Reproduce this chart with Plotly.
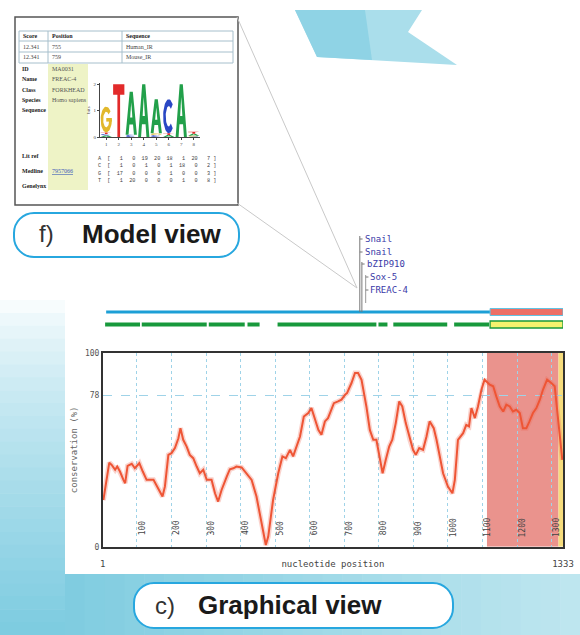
import numpy as np
import plotly.graph_objects as go

W, H = 580, 635


def px(x):
    return x / W


def py(y):
    return 1 - y / H


def mix(c1, c2, t):
    a = [int(c1[i:i + 2], 16) for i in (1, 3, 5)]
    b = [int(c2[i:i + 2], 16) for i in (1, 3, 5)]
    return 'rgb(%d,%d,%d)' % tuple(round(a[k] + (b[k] - a[k]) * t) for k in range(3))


# conservation profile (graphical view)
position = [3, 13, 20, 27, 37, 43, 51, 61, 66, 73, 85, 94, 107, 117, 128, 148, 162, 174, 181, 191,
            200, 210, 220, 226, 234, 244, 253, 263, 273, 282, 292, 302, 316, 326, 335, 345, 360, 369, 379, 388,
            403, 417, 432, 446, 461, 473, 480, 494, 509, 521, 531, 543, 552, 562, 572, 583, 596, 605, 615, 625,
            634, 644, 653, 663, 670, 682, 692, 702, 708, 721, 731, 740, 750, 757, 764, 774, 784, 793, 801, 811,
            820, 830, 839, 849, 859, 868, 878, 890, 899, 907, 917, 928, 938, 947, 959, 967, 976, 986, 1000, 1013,
            1020, 1029, 1044, 1053, 1061, 1068, 1078, 1087, 1097, 1106, 1121, 1131, 1140, 1150, 1160, 1169, 1179, 1188, 1198, 1208,
            1217, 1227, 1236, 1246, 1256, 1266, 1275, 1287, 1299, 1309, 1318, 1325, 1331]
conservation = [24.1, 34.5, 43.4, 42.2, 39.7, 41.4, 38.8, 34.5, 32.8, 41.7, 42.8, 40.5, 43.1, 38.8, 34.5, 34.5, 30.2, 25.9, 31.0, 47.4,
                48.3, 50.9, 56.0, 61.2, 55.2, 51.7, 47.4, 45.7, 41.4, 37.9, 39.7, 34.5, 34.5, 27.6, 23.3, 29.3, 36.2, 40.0, 40.5, 41.4,
                40.9, 37.9, 34.5, 25.9, 12.1, 0.9, 5.2, 24.1, 37.9, 46.6, 45.7, 50.0, 46.6, 51.7, 56.9, 67.2, 69.0, 71.6, 65.5, 60.3,
                57.8, 64.7, 66.4, 70.7, 74.1, 75.0, 75.9, 78.4, 79.3, 84.5, 89.7, 89.7, 86.2, 79.3, 72.4, 60.3, 55.2, 55.2, 48.3, 37.9,
                44.8, 51.7, 55.2, 63.8, 75.0, 72.4, 63.8, 55.2, 50.0, 47.4, 50.9, 50.0, 56.9, 64.7, 61.2, 55.2, 47.4, 37.9, 31.0, 27.6,
                34.5, 55.2, 58.6, 62.9, 62.1, 71.6, 66.4, 72.4, 81.0, 86.2, 83.6, 82.8, 77.6, 72.4, 69.8, 73.3, 72.4, 69.8, 70.7, 69.0,
                61.2, 61.2, 64.7, 69.0, 71.6, 75.9, 81.0, 86.2, 84.5, 82.8, 67.2, 55.2, 44.8]
seq_length = 1333
grid_ticks = list(range(100, 1400, 100))
y_ticks = [0, 78, 100]
utr_region = (1113, 1320)
end_region = (1320, 1333)

# gene tracks above the plot (nucleotide coordinates)
transcript = (11, 1125)
exons = [(8, 109), (114, 302), (308, 412), (420, 455), (507, 793), (799, 825), (842, 998), (1018, 1119)]
utr = (1122, 1333)
tf_names = ['Snail', 'Snail', 'bZIP910', 'Sox-5', 'FREAC-4']
tf_sites = [745, 745, 751, 762, 762]

# model view content
hit_score = ['12.341', '12.341']
hit_position = ['755', '759']
hit_sequence = ['Human_IR', 'Mouse_IR']
fields = ['ID', 'Name', 'Class', 'Species', 'Sequence', 'Lit ref', 'Medline', 'Genelynx']
field_values = ['MA0031', 'FREAC-4', 'FORKHEAD', 'Homo sapiens', '', '', '7957066', '']
bases = ['A', 'C', 'G', 'T']
count_A = [1, 0, 19, 20, 18, 1, 20, 7]
count_C = [1, 0, 1, 0, 1, 18, 0, 2]
count_G = [17, 0, 0, 0, 1, 0, 0, 3]
count_T = [1, 20, 0, 0, 0, 1, 0, 8]
base_colors = {'A': '#22a04a', 'C': '#2a47c4', 'G': '#e2b82c', 'T': '#e22a2a'}


def glyph(base):
    if base == 'T':
        return [[0, 1, 1, 0.62, 0.62, 0.38, 0.38, 0, 0]], [[1, 1, 0.8, 0.8, 0, 0, 0.8, 0.8, 1]]
    if base == 'A':
        return [[0, 0.36, 0.64, 1, 0.74, 0.66, 0.34, 0.26, 0]], [[0, 1, 1, 0, 0, 0.24, 0.24, 0, 0]]
    if base == 'C':
        t = np.radians(np.linspace(45, 315, 40))
    else:
        t = np.radians(np.linspace(40, 360, 40))
    xo = 0.5 + 0.5 * np.cos(t)
    yo = 0.5 + 0.5 * np.sin(t)
    xi = 0.5 + 0.27 * np.cos(t[::-1])
    yi = 0.5 + 0.3 * np.sin(t[::-1])
    xs = [list(np.r_[xo, xi, xo[:1]])]
    ys = [list(np.r_[yo, yi, yo[:1]])]
    if base == 'G':
        xs.append([0.5, 1, 1, 0.5, 0.5])
        ys.append([0.42, 0.42, 0.56, 0.56, 0.42])
    return xs, ys


fig = go.Figure()

# conservation curve with a soft halo
fig.add_trace(go.Scatter(x=position, y=conservation, mode='lines',
                         line=dict(color='rgba(240,110,90,0.3)', width=5), hoverinfo='skip'))
fig.add_trace(go.Scatter(x=position, y=conservation, mode='lines',
                         line=dict(color='#ee5535', width=2)))

# sequence logo computed from the count matrix
counts = np.array([count_A, count_C, count_G, count_T], dtype=float)
freq = counts / counts.sum(axis=0)
with np.errstate(divide='ignore', invalid='ignore'):
    ent = -np.nansum(np.where(freq > 0, freq * np.log2(freq), 0), axis=0)
heights = freq * (2 - ent)
for col in range(counts.shape[1]):
    base_y = 0.0
    for b in np.argsort(heights[:, col]):
        h = heights[b, col]
        if h < 0.01:
            continue
        gx, gy = glyph(bases[b])
        for xs, ys in zip(gx, gy):
            fig.add_trace(go.Scatter(x=[col + 1 - 0.45 + 0.9 * v for v in xs],
                                     y=[base_y + h * v for v in ys],
                                     mode='lines', fill='toself', line=dict(width=0),
                                     fillcolor=base_colors[bases[b]],
                                     xaxis='x2', yaxis='y2', hoverinfo='skip'))
        if bases[b] == 'A':
            fig.add_trace(go.Scatter(x=[col + 1 - 0.45 + 0.9 * v for v in [0.4, 0.5, 0.6, 0.4]],
                                     y=[base_y + h * v for v in [0.4, 0.76, 0.4, 0.4]],
                                     mode='lines', fill='toself', line=dict(width=0),
                                     fillcolor='white', xaxis='x2', yaxis='y2', hoverinfo='skip'))
        base_y += h

shapes = []
# blue background gradient
n = 26
for i in range(n):
    y0 = 300 + i * (335 / n)
    shapes.append(dict(type='rect', xref='paper', yref='paper', layer='below',
                       x0=px(0), x1=px(65), y0=py(y0 + 335 / n + 0.6), y1=py(y0),
                       line=dict(width=0), fillcolor=mix('#ffffff', '#7ccbe0', ((i + 0.5) / n) ** 0.7)))
for i in range(n):
    x0 = 65 + i * (515 / n)
    shapes.append(dict(type='rect', xref='paper', yref='paper', layer='below',
                       x0=px(x0), x1=px(x0 + 515 / n + 0.6), y0=py(635), y1=py(574),
                       line=dict(width=0), fillcolor=mix('#7fcce0', '#bfe6ef', (i + 0.5) / n)))
# teal ribbon at the top
shapes.append(dict(type='path', xref='paper', yref='paper', layer='below',
                   path='M %f,%f L %f,%f L %f,%f L %f,%f L %f,%f Z' % (
                       px(295), py(10), px(422), py(10), px(408), py(32), px(457), py(65), px(317), py(57)),
                   line=dict(width=0), fillcolor='#aadeeb'))
shapes.append(dict(type='path', xref='paper', yref='paper', layer='below',
                   path='M %f,%f L %f,%f L %f,%f L %f,%f Z' % (
                       px(295), py(10), px(365), py(10), px(372), py(60), px(317), py(57)),
                   line=dict(width=0), fillcolor='#8fd3e5'))

# connector lines from the model view to the sites
for yy in (17, 203):
    shapes.append(dict(type='line', xref='paper', yref='paper', x0=px(237), y0=py(yy), x1=px(357), y1=py(288),
                       line=dict(color='#c9c9c9', width=1)))

# model view box
shapes.append(dict(type='rect', xref='paper', yref='paper', layer='below', x0=px(15), x1=px(238), y0=py(205), y1=py(17),
                   line=dict(color='#555555', width=1.5), fillcolor='white'))
shapes.append(dict(type='rect', xref='paper', yref='paper', layer='below', x0=px(48), x1=px(88), y0=py(190), y1=py(64),
                   line=dict(width=0), fillcolor='#eef3c6'))
shapes.append(dict(type='rect', xref='paper', yref='paper', x0=px(19), x1=px(233), y0=py(63), y1=py(31),
                   line=dict(color='#a6bfcc', width=1)))
for yy in (41, 52):
    shapes.append(dict(type='line', xref='paper', yref='paper', x0=px(19), x1=px(233), y0=py(yy), y1=py(yy),
                       line=dict(color='#a6bfcc', width=1)))
for xx in (48, 122):
    shapes.append(dict(type='line', xref='paper', yref='paper', x0=px(xx), x1=px(xx), y0=py(31), y1=py(63),
                       line=dict(color='#a6bfcc', width=1)))


def pill(x0, y0, x1, y1, r):
    k = 0.5523 * r
    p = [('M', x0 + r, y0), ('L', x1 - r, y0), ('C', x1 - r + k, y0, x1, y0 + r - k, x1, y0 + r),
         ('L', x1, y1 - r), ('C', x1, y1 - r + k, x1 - r + k, y1, x1 - r, y1), ('L', x0 + r, y1),
         ('C', x0 + r - k, y1, x0, y1 - r + k, x0, y1 - r), ('L', x0, y0 + r),
         ('C', x0, y0 + r - k, x0 + r - k, y0, x0 + r, y0)]
    out = []
    for seg in p:
        pts = seg[1:]
        out.append(seg[0] + ' ' + ' '.join('%f,%f' % (px(pts[j]), py(pts[j + 1])) for j in range(0, len(pts), 2)))
    return ' '.join(out) + ' Z'


shapes.append(dict(type='path', xref='paper', yref='paper', path=pill(14, 213, 239, 257, 20),
                   line=dict(color='#27a7df', width=2), fillcolor='white'))
shapes.append(dict(type='path', xref='paper', yref='paper', path=pill(134, 583, 453, 628, 20),
                   line=dict(color='#27a7df', width=2), fillcolor='white'))

# shaded regions in the plot
shapes.append(dict(type='rect', xref='x', yref='y', layer='below', x0=utr_region[0], x1=utr_region[1], y0=0, y1=100,
                   line=dict(width=0), fillcolor='#ea938d'))
shapes.append(dict(type='rect', xref='x', yref='y', layer='below', x0=end_region[0], x1=end_region[1], y0=0, y1=100,
                   line=dict(width=0), fillcolor='#f6dc7c'))

# gene tracks
shapes.append(dict(type='line', xref='x', yref='paper', x0=transcript[0], x1=transcript[1], y0=py(312), y1=py(312),
                   line=dict(color='#1c9fd6', width=3)))
shapes.append(dict(type='rect', xref='x', yref='paper', x0=utr[0], x1=utr[1], y0=py(315.5), y1=py(308.5),
                   line=dict(color='#62c3e3', width=1), fillcolor='#ec6f66'))
for a, b in exons:
    shapes.append(dict(type='line', xref='x', yref='paper', x0=a, x1=b, y0=py(324.5), y1=py(324.5),
                       line=dict(color='#18993c', width=4)))
shapes.append(dict(type='rect', xref='x', yref='paper', x0=utr[0], x1=utr[1], y0=py(328), y1=py(321),
                   line=dict(color='#18993c', width=1.3), fillcolor='#f5f26e'))

# transcription factor site markers
label_y = [239, 252, 264, 277, 290]
shapes.append(dict(type='line', xref='x', yref='paper', x0=745, x1=745, y0=py(312), y1=py(236),
                   line=dict(color='#777777', width=1)))
shapes.append(dict(type='line', xref='x', yref='paper', x0=751, x1=751, y0=py(312), y1=py(262),
                   line=dict(color='#777777', width=1)))
shapes.append(dict(type='line', xref='x', yref='paper', x0=762, x1=762, y0=py(303), y1=py(275),
                   line=dict(color='#999999', width=1)))
for name, site, yy in zip(tf_names, tf_sites, label_y):
    shapes.append(dict(type='line', xref='x', yref='paper', x0=site, x1=site + 8, y0=py(yy), y1=py(yy),
                       line=dict(color='#777777', width=1)))

annotations = []
mono = 'DejaVu Sans Mono'
for name, site, yy in zip(tf_names, tf_sites, label_y):
    annotations.append(dict(xref='x', yref='paper', x=site + 8, y=py(yy), text=name, showarrow=False,
                            xanchor='left', yanchor='middle', font=dict(family=mono, size=9, color='#3a3aa8')))
for v in grid_ticks:
    annotations.append(dict(xref='x', yref='y', x=v + 16, y=9.7, text=str(v), textangle=-90, showarrow=False,
                            font=dict(family=mono, size=8, color='#444444')))

serif = 'Liberation Serif'
for xx, txt in zip((21, 50, 124), ('Score', 'Position', 'Sequence')):
    annotations.append(dict(xref='paper', yref='paper', x=px(xx), y=py(36), text='<b>%s</b>' % txt, showarrow=False,
                            xanchor='left', yanchor='middle', font=dict(family=serif, size=6, color='#222')))
for i in range(len(hit_score)):
    yy = 46.5 + 10.8 * i
    for xx, txt in zip((21, 50, 124), (hit_score[i], hit_position[i], hit_sequence[i])):
        annotations.append(dict(xref='paper', yref='paper', x=px(xx), y=py(yy), text=txt, showarrow=False,
                                xanchor='left', yanchor='middle', font=dict(family=serif, size=6, color='#444')))
field_y = [69, 79, 90, 100, 110, 156, 171, 186]
for f, v, yy in zip(fields, field_values, field_y):
    annotations.append(dict(xref='paper', yref='paper', x=px(20), y=py(yy), text='<b>%s</b>' % f, showarrow=False,
                            xanchor='left', yanchor='middle', font=dict(family=serif, size=6, color='#222')))
    if v:
        col = '#3a5ab8' if f == 'Medline' else '#555'
        txt = '<u>%s</u>' % v if f == 'Medline' else v
        annotations.append(dict(xref='paper', yref='paper', x=px(50), y=py(yy), text=txt, showarrow=False,
                                xanchor='left', yanchor='middle', font=dict(family=serif, size=6, color=col)))
for i, (b, row) in enumerate(zip(bases, counts.astype(int))):
    txt = b + '  [' + ''.join('%4d' % v for v in row) + ' ]'
    annotations.append(dict(xref='paper', yref='paper', x=px(96), y=py(159 + 7.3 * i), text=txt, showarrow=False,
                            xanchor='left', yanchor='middle', font=dict(family='Liberation Mono', size=5.2, color='#444')))

annotations += [
    dict(xref='paper', yref='paper', x=px(37), y=py(234), text='f)', showarrow=False, xanchor='left', yanchor='middle',
         font=dict(size=24, color='#333333')),
    dict(xref='paper', yref='paper', x=px(80), y=py(234), text='<b>Model view</b>', showarrow=False, xanchor='left',
         yanchor='middle', font=dict(size=26, color='#1a1a1a')),
    dict(xref='paper', yref='paper', x=px(153), y=py(605), text='c)', showarrow=False, xanchor='left', yanchor='middle',
         font=dict(size=24, color='#333333')),
    dict(xref='paper', yref='paper', x=px(196), y=py(605), text='<b>Graphical view</b>', showarrow=False, xanchor='left',
         yanchor='middle', font=dict(size=26, color='#1a1a1a')),
]

fig.update_layout(
    width=W, height=H, margin=dict(l=0, r=0, t=0, b=0, pad=0),
    paper_bgcolor='white', plot_bgcolor='white', showlegend=False,
    font=dict(family='Liberation Sans', color='#222222'),
    shapes=shapes, annotations=annotations,
    xaxis=dict(domain=[px(102.7), px(563)], range=[1, seq_length], automargin=False,
               tickvals=[1, 667, seq_length], ticktext=['1', 'nucleotide position', str(seq_length)],
               ticks='', ticklabelstandoff=8, showgrid=False, zeroline=False,
               showline=True, mirror=True, linecolor='#333333', linewidth=1.5,
               tickfont=dict(family=mono, size=9, color='#444444'),
               minor=dict(tickvals=grid_ticks, showgrid=True, gridcolor='#9fd3e8', griddash='dot', gridwidth=1)),
    yaxis=dict(domain=[py(546.7), py(353)], range=[0, 100], automargin=False,
               tickvals=y_ticks, ticks='', showgrid=True, gridcolor='#9fd3e8', griddash='dash', zeroline=False,
               showline=True, mirror=True, linecolor='#333333', linewidth=1.5,
               tickfont=dict(family=mono, size=8, color='#555555'),
               title=dict(text='conservation (%)', standoff=6, font=dict(family=mono, size=9, color='#666666'))),
    xaxis2=dict(domain=[px(100), px(200)], range=[0.5, 8.5], anchor='y2', automargin=False,
                tickvals=list(range(1, 9)), ticks='outside', ticklen=2, showgrid=False, zeroline=False,
                showline=True, linecolor='#444444', linewidth=1, tickfont=dict(family=serif, size=5, color='#444')),
    yaxis2=dict(domain=[py(137), py(83)], range=[0, 2.05], anchor='x2', automargin=False,
                tickvals=[0, 1, 2], ticks='outside', ticklen=2, showgrid=False, zeroline=False,
                showline=True, linecolor='#444444', linewidth=1, tickfont=dict(family=serif, size=5, color='#444'),
                title=dict(text='bits', standoff=2, font=dict(family=serif, size=5, color='#444'))),
)

fig.write_html("out.html", config={'displayModeBar': False},
               post_script="document.body.style.margin='0';")
